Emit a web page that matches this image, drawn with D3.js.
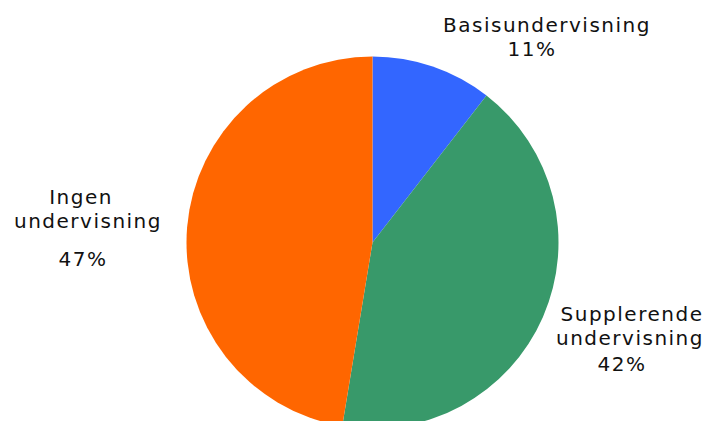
<!DOCTYPE html>
<html>
<head>
<meta charset="utf-8">
<script src="https://cdn.jsdelivr.net/npm/d3@7"></script>
<style>
  html, body { margin: 0; padding: 0; background: #fff; }
  svg { display: block; }
  text { font-family: "DejaVu Sans", Verdana, sans-serif; font-size: 20px; fill: #111; }
</style>
</head>
<body>
<svg id="chart" width="712" height="421"></svg>
<script>
// Share of pupils by type of teaching
const categories = ["Basisundervisning", "Supplerende undervisning", "Ingen undervisning"];
const shares = [10.5, 42.1, 47.4];
const colors = ["#3366FF", "#38996A", "#FF6600"];

const width = 712, height = 421;
const cx = 372.5, cy = 242.5, radius = 186;

const svg = d3.select("#chart");

const pie = d3.pie().sort(null).value(d => d.value).startAngle(0).endAngle(2 * Math.PI);
const arc = d3.arc().innerRadius(0).outerRadius(radius);

const data = categories.map((c, i) => ({ name: c, value: shares[i], color: colors[i] }));

svg.append("g")
  .attr("transform", `translate(${cx},${cy})`)
  .selectAll("path")
  .data(pie(data))
  .join("path")
  .attr("d", arc)
  .attr("fill", d => d.data.color);

// Label blocks: lines of the category name followed by the rounded percentage
const labelLayout = [
  { lines: [["Basisundervisning", 547, 32]], pct: [532, 56] },
  { lines: [["Supplerende", 632, 321], ["undervisning", 630, 345]], pct: [622, 371] },
  { lines: [["Ingen", 81, 204], ["undervisning", 88, 228]], pct: [83, 266] }
];

const labels = svg.append("g");
data.forEach((d, i) => {
  const L = labelLayout[i];
  L.lines.forEach(([t, x, y]) => {
    labels.append("text")
      .attr("x", x).attr("y", y)
      .attr("text-anchor", "middle")
      .style("letter-spacing", "1.5px")
      .text(t);
  });
  labels.append("text")
    .attr("x", L.pct[0]).attr("y", L.pct[1])
    .attr("text-anchor", "middle")
    .style("letter-spacing", "1.5px")
    .text(Math.round(d.value) + "%");
});
</script>
</body>
</html>
